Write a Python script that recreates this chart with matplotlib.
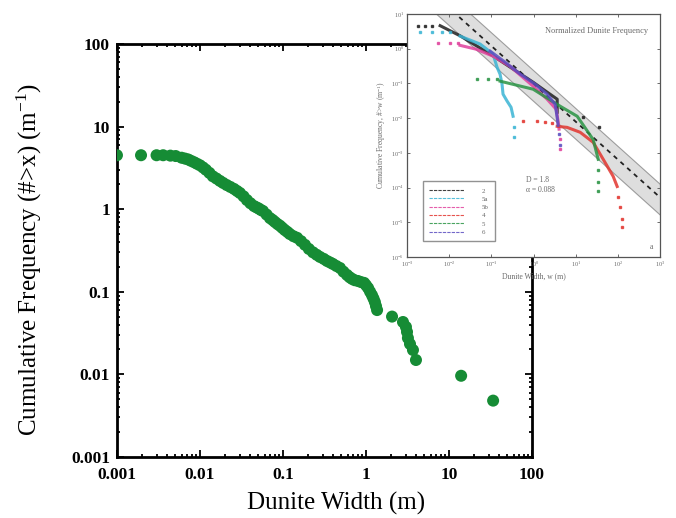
import numpy as np
import matplotlib
matplotlib.use("Agg")
import matplotlib.pyplot as plt
import matplotlib.ticker as mtick

plt.rcParams['font.family'] = ['Liberation Serif', 'DejaVu Serif']
plt.rcParams['mathtext.fontset'] = 'custom'
plt.rcParams['mathtext.rm'] = 'Liberation Serif'
plt.rcParams['mathtext.it'] = 'Liberation Serif:italic'

# main panel: cumulative dunite frequency
main_width = [0.001, 0.00195, 0.0030, 0.0036, 0.0044, 0.0051, 0.0060, 0.0066, 0.0072, 0.0078,
              0.0085, 0.0092, 0.0100, 0.0109, 0.0118, 0.013, 0.0143, 0.0158, 0.0174, 0.019,
              0.021, 0.0232, 0.0257, 0.028, 0.0303, 0.0335, 0.0368, 0.0405, 0.0448, 0.048,
              0.051, 0.054, 0.0574, 0.0635, 0.0697, 0.075, 0.08, 0.086, 0.092, 0.098, 0.105,
              0.113, 0.121, 0.134, 0.148, 0.165, 0.184, 0.205, 0.23, 0.255, 0.279, 0.31,
              0.339, 0.37, 0.40, 0.44, 0.486, 0.535, 0.59, 0.635, 0.68, 0.73, 0.80, 0.87,
              0.95, 1.0, 1.06, 1.12, 1.18, 1.23, 1.28, 1.32, 1.36, 2.06, 2.79, 3.03, 3.12,
              3.2, 3.39, 3.68, 4.0, 14, 34]
main_freq = [4.5, 4.5, 4.5, 4.5, 4.45, 4.4, 4.2, 4.1, 4.0, 3.85,
             3.7, 3.55, 3.4, 3.2, 3.0, 2.75, 2.5, 2.35, 2.2, 2.08,
             1.96, 1.86, 1.76, 1.66, 1.57, 1.43, 1.29, 1.18, 1.09, 1.05,
             1.02, 0.98, 0.95, 0.86, 0.78, 0.74, 0.70, 0.66, 0.63, 0.595, 0.56,
             0.53, 0.50, 0.47, 0.45, 0.41, 0.37, 0.33, 0.30, 0.28, 0.264, 0.25,
             0.236, 0.226, 0.217, 0.205, 0.194, 0.175, 0.16, 0.15, 0.143, 0.138, 0.135, 0.131,
             0.128, 0.12, 0.111, 0.10, 0.091, 0.083, 0.075, 0.067, 0.060, 0.050, 0.043, 0.0375, 0.0326,
             0.0275, 0.0233, 0.0197, 0.0149, 0.0096, 0.0048]

# inset: normalized dunite frequency per locality
s2_dot_x = [0.0018, 0.0027, 0.0039, 14.8, 35.5]
s2_dot_y = [4.6, 4.6, 4.6, 0.0105, 0.0054]
s2_x = [0.0061, 0.018, 0.109, 0.97, 2.08, 3.6, 3.6]
s2_y = [4.6, 2.36, 0.62, 0.108, 0.056, 0.035, 0.0147]

s5a_dot_x = [0.002, 0.0039, 0.0068, 0.0105, 0.343, 0.343]
s5a_dot_y = [3.0, 3.0, 3.0, 3.0, 0.0054, 0.0028]
s5a_x = [0.018, 0.054, 0.109, 0.136, 0.16, 0.178, 0.188, 0.234, 0.291, 0.325]
s5a_y = [2.31, 1.36, 0.70, 0.29, 0.184, 0.095, 0.049, 0.031, 0.0205, 0.0113]

s5b_dot_x = [0.0054, 0.0104, 0.0162, 4.2, 4.2]
s5b_dot_y = [1.45, 1.45, 1.45, 0.0025, 0.0013]
s5b_x = [0.018, 0.043, 0.109, 0.276, 0.97, 2.08, 3.4, 3.78, 3.98]
s5b_y = [1.25, 0.97, 0.61, 0.31, 0.083, 0.035, 0.018, 0.0081, 0.0048]

s4_dot_x = [0.56, 1.2, 1.86, 2.73, 100, 111, 124, 124]
s4_dot_y = [0.0081, 0.0081, 0.0078, 0.0074, 0.000055, 0.000028, 0.000012, 0.0000074]
s4_x = [3.59, 6.2, 12.6, 25.6, 44.2, 76, 94.6]
s4_y = [0.0058, 0.0054, 0.0039, 0.002, 0.00065, 0.00021, 0.000107]

s5_dot_x = [0.046, 0.083, 0.136, 33.6, 33.6, 33.6]
s5_dot_y = [0.13, 0.13, 0.13, 0.00033, 0.00014, 0.000077]
s5_x = [0.16, 0.97, 4.23, 10.7, 25.6, 33.6]
s5_y = [0.116, 0.068, 0.022, 0.0113, 0.0024, 0.00065]

s6_dot_x = [3.98, 4.23]
s6_dot_y = [0.0034, 0.0017]
s6_x = [0.093, 0.21, 0.48, 1.08, 2.08, 3.22, 3.59, 3.78]
s6_y = [0.85, 0.41, 0.185, 0.095, 0.049, 0.025, 0.0105, 0.0062]

series_labels = ['2', '5a', '5b', '4', '5', '6']
fit_coef = 0.0964
fit_exp = -1.093
band_up = 0.38   # decades above the fit
band_low = 0.50  # decades below the fit

fig = plt.figure(figsize=(6.76, 5.18), dpi=100)

# ---- main panel ----
ax = fig.add_axes([0.173, 0.118, 0.614, 0.797])
ax.scatter(main_width, main_freq, s=75, color='#168c35', edgecolors='none', zorder=3)
ax.set_xscale('log')
ax.set_yscale('log')
ax.set_xlim(0.001, 100)
ax.set_ylim(0.001, 100)
fmt = mtick.FuncFormatter(lambda v, _: f"{v:g}")
ax.xaxis.set_major_formatter(fmt)
ax.yaxis.set_major_formatter(fmt)
ax.xaxis.set_minor_formatter(mtick.NullFormatter())
ax.yaxis.set_minor_formatter(mtick.NullFormatter())
ax.tick_params(which='both', direction='in', top=True, right=True, width=1.3)
ax.tick_params(which='major', length=5, labelsize=12.5)
ax.tick_params(which='minor', length=2.5)
ax.tick_params(axis='x', pad=7)
ax.tick_params(axis='y', pad=5)
for lab in ax.get_xticklabels() + ax.get_yticklabels():
    lab.set_fontweight('bold')
for sp in ax.spines.values():
    sp.set_linewidth(2)

fig.text(0.497, 0.029, 'Dunite Width (m)', ha='center', va='center', fontsize=18)
fig.text(0.043, 0.50, 'Cumulative Frequency (#>x) (m$^{-1}$)', ha='center', va='center',
         rotation=90, fontsize=18)

# ---- inset ----
gray = '#6a6a6a'
ins = fig.add_axes([0.602, 0.504, 0.375, 0.469], zorder=5)
ins.set_facecolor('white')
ins.set_xscale('log')
ins.set_yscale('log')
ins.set_xlim(1e-3, 1e3)
ins.set_ylim(1e-6, 1e1)

xf = np.logspace(-3, 3, 50)
yf = fit_coef * xf ** fit_exp
ins.fill_between(xf, yf / 10 ** band_low, yf * 10 ** band_up, color='#dedede', zorder=1)
ins.plot(xf, yf * 10 ** band_up, color='#9a9a9a', lw=0.7, zorder=1)
ins.plot(xf, yf / 10 ** band_low, color='#9a9a9a', lw=0.7, zorder=1)
ins.plot(xf, yf, color='#222222', lw=1.3, ls=(0, (2.5, 2.5)), zorder=2)

colors = ['#1e1e1e', '#3ab4d4', '#e0409c', '#e2352f', '#2a9444', '#5a4ec0']
lines_x = [s2_x, s5a_x, s5b_x, s4_x, s5_x, s6_x]
lines_y = [s2_y, s5a_y, s5b_y, s4_y, s5_y, s6_y]
dots_x = [s2_dot_x, s5a_dot_x, s5b_dot_x, s4_dot_x, s5_dot_x, s6_dot_x]
dots_y = [s2_dot_y, s5a_dot_y, s5b_dot_y, s4_dot_y, s5_dot_y, s6_dot_y]
for lx, ly, dx, dy, c, lab in zip(lines_x, lines_y, dots_x, dots_y, colors, series_labels):
    ins.plot(lx, ly, color=c, lw=2.2, alpha=0.85, zorder=3, label=lab)
    ins.plot(dx, dy, ls='none', marker='s', ms=1.6, color=c, alpha=0.8, zorder=3)

leg = ins.legend(loc='lower left', bbox_to_anchor=(0.05, 0.05), fontsize=5, frameon=True,
                 fancybox=False, edgecolor='#777777', handlelength=5, labelspacing=0.35,
                 borderpad=0.9, handletextpad=2.5, labelcolor=gray)
for h in leg.get_lines():
    h.set_linewidth(0.8)
    h.set_linestyle((0, (3, 1)))

ins.text(0.95, 0.93, 'Normalized Dunite Frequency', transform=ins.transAxes, ha='right',
         va='center', fontsize=6, color=gray)
ins.text(0.47, 0.295, 'D = 1.8\n\u03b1 = 0.088', transform=ins.transAxes, ha='left',
         va='center', fontsize=5.5, color=gray, linespacing=1.3)
ins.text(0.97, 0.04, 'a', transform=ins.transAxes, ha='right', va='center', fontsize=5.5,
         color=gray)

ins.xaxis.set_major_locator(mtick.LogLocator(base=10, numticks=10))
ins.yaxis.set_major_locator(mtick.LogLocator(base=10, numticks=10))
ins.tick_params(which='both', direction='in', top=True, right=True, width=0.6,
                color='#555555', labelsize=4.5, labelcolor=gray, pad=2)
ins.tick_params(which='major', length=2.5)
ins.tick_params(which='minor', length=0)
for sp in ins.spines.values():
    sp.set_linewidth(0.9)
    sp.set_color('#555555')
ins.set_xlabel('Dunite Width, w (m)', fontsize=5.5, color=gray, labelpad=2)
ins.set_ylabel('Cumulative Frequency, #>w (m$^{-1}$)', fontsize=5.5, color=gray, labelpad=2)

fig.savefig('out.png', dpi=100)
